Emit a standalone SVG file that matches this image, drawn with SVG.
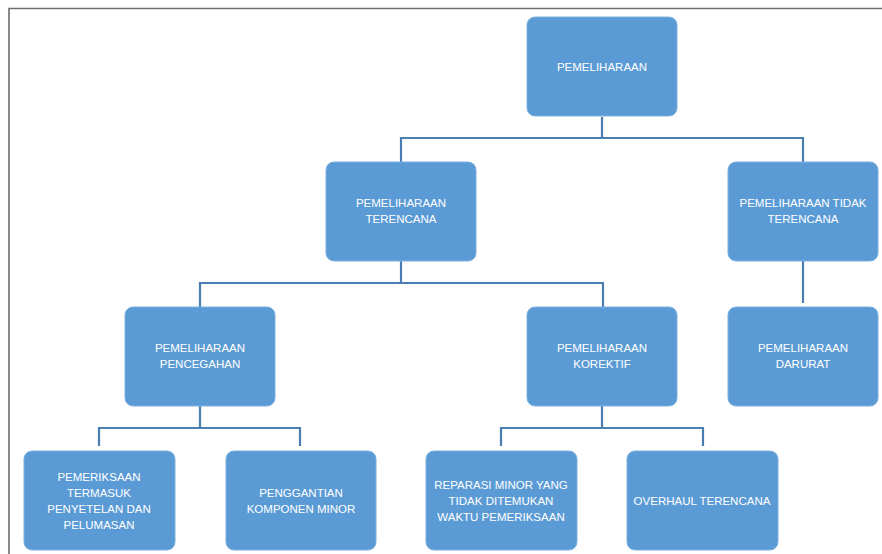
<svg xmlns="http://www.w3.org/2000/svg" width="882" height="554" viewBox="0 0 882 554">
<style>
.box{fill:#5B9BD5;stroke:#7FB0DE;stroke-width:1}
.t{font-family:"Liberation Sans",Arial,sans-serif;font-size:11.5px;fill:#FFFFFF;text-anchor:middle}
.c{fill:none;stroke:#4A7EB0;stroke-width:2.2}
</style>
<rect width="882" height="554" fill="#FFFFFF"/>
<path d="M9,554 V8.5 H882" fill="none" stroke="#6E6E6E" stroke-width="1.6"/>
<g id="connectors">
<path class="c" d="M602,117 V138 M401,162 V138 H803 V162"/>
<path class="c" d="M401,261 V283 M200,307 V283 H603 V307"/>
<path class="c" d="M803,261 V303"/>
<path class="c" d="M200,406 V428 M99,446 V428 H300 V446"/>
<path class="c" d="M602,406 V428 M501,446 V428 H703 V446"/>
</g>
<g id="n-root"><rect class="box" x="527" y="17" width="150" height="99" rx="8"/><text class="t" x="602" y="71">PEMELIHARAAN</text></g>
<g id="n-terencana"><rect class="box" x="326" y="162" width="150" height="99" rx="8"/><text class="t" x="401" y="207">PEMELIHARAAN</text><text class="t" x="401" y="223">TERENCANA</text></g>
<g id="n-tidak"><rect class="box" x="728" y="162" width="150" height="99" rx="8"/><text class="t" x="803" y="207">PEMELIHARAAN TIDAK</text><text class="t" x="803" y="223">TERENCANA</text></g>
<g id="n-pencegahan"><rect class="box" x="125" y="307" width="150" height="99" rx="8"/><text class="t" x="200" y="352">PEMELIHARAAN</text><text class="t" x="200" y="368">PENCEGAHAN</text></g>
<g id="n-korektif"><rect class="box" x="527" y="307" width="150" height="99" rx="8"/><text class="t" x="602" y="352">PEMELIHARAAN</text><text class="t" x="602" y="368">KOREKTIF</text></g>
<g id="n-darurat"><rect class="box" x="728" y="307" width="150" height="99" rx="8"/><text class="t" x="803" y="352">PEMELIHARAAN</text><text class="t" x="803" y="368">DARURAT</text></g>
<g id="n-pemeriksaan"><rect class="box" x="24" y="451" width="151" height="99" rx="8"/><text class="t" x="99" y="481">PEMERIKSAAN</text><text class="t" x="99" y="497">TERMASUK</text><text class="t" x="99" y="513">PENYETELAN DAN</text><text class="t" x="99" y="529">PELUMASAN</text></g>
<g id="n-penggantian"><rect class="box" x="226" y="451" width="150" height="99" rx="8"/><text class="t" x="301" y="497">PENGGANTIAN</text><text class="t" x="301" y="513">KOMPONEN MINOR</text></g>
<g id="n-reparasi"><rect class="box" x="426" y="451" width="151" height="99" rx="8"/><text class="t" x="501" y="489">REPARASI MINOR YANG</text><text class="t" x="501" y="505">TIDAK DITEMUKAN</text><text class="t" x="501" y="521">WAKTU PEMERIKSAAN</text></g>
<g id="n-overhaul"><rect class="box" x="627" y="451" width="151" height="99" rx="8"/><text class="t" x="702" y="505">OVERHAUL TERENCANA</text></g>
</svg>
